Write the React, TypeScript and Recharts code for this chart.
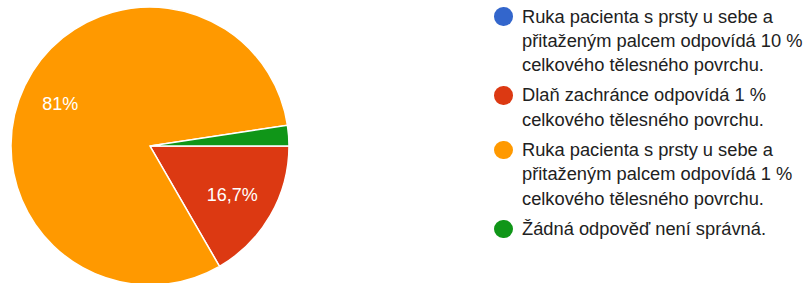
import React from "react";
import { PieChart, Pie, Cell, Legend } from "recharts";

const categories = [
  "Ruka pacienta s prsty u sebe a\npřitaženým palcem odpovídá 10 %\ncelkového tělesného povrchu.",
  "Dlaň zachránce odpovídá 1 %\ncelkového tělesného povrchu.",
  "Ruka pacienta s prsty u sebe a\npřitaženým palcem odpovídá 1 %\ncelkového tělesného povrchu.",
  "Žádná odpověď není správná.",
];
const counts = [0, 7, 34, 1];
const colors = ["#3366cc", "#dc3912", "#ff9900", "#109618"];

const data = categories.map((name, i) => ({ name, value: counts[i] }));

const RAD = Math.PI / 180;

const renderLabel = (props: any) => {
  const { cx, cy, midAngle, outerRadius, percent } = props;
  if (percent < 0.05) return null;
  const r = outerRadius * 0.7;
  const x = cx + r * Math.cos(-midAngle * RAD);
  const y = cy + r * Math.sin(-midAngle * RAD);
  const v = Math.round(percent * 1000) / 10;
  const txt = String(v).replace(".", ",") + "%";
  return (
    <text
      x={x - 2}
      y={y}
      fill="#ffffff"
      textAnchor="middle"
      dominantBaseline="central"
      fontFamily="Arial, 'Liberation Sans', sans-serif"
      fontSize={18}
    >
      {txt}
    </text>
  );
};

const renderLegend = () => (
  <div style={{ fontFamily: "Arial, 'Liberation Sans', sans-serif", fontSize: 18.3, color: "#212121" }}>
    {data.map((d, i) => (
      <div key={i} style={{ display: "flex", alignItems: "flex-start", marginBottom: 6 }}>
        <div
          style={{
            width: 18.5,
            height: 18.5,
            borderRadius: "50%",
            background: colors[i],
            marginTop: 2.9,
            marginRight: 9.5,
            flexShrink: 0,
          }}
        />
        <div style={{ whiteSpace: "pre-line", lineHeight: "24.3px" }}>{d.name}</div>
      </div>
    ))}
  </div>
);

export default function App() {
  return (
    <div style={{ position: "absolute", left: 0, top: 0, width: 809, height: 283, background: "#fff" }}>
      <PieChart width={809} height={283} margin={{ top: 0, right: 0, bottom: 0, left: 0 }}>
        <Pie
          data={data}
          dataKey="value"
          nameKey="name"
          cx={150}
          cy={146}
          outerRadius={139}
          startAngle={0}
          endAngle={-360}
          stroke="#ffffff"
          strokeWidth={1.5}
          label={renderLabel}
          labelLine={false}
          isAnimationActive={false}
        >
          {data.map((d, i) => (
            <Cell key={i} fill={colors[i]} />
          ))}
        </Pie>
        <Legend
          layout="vertical"
          content={renderLegend}
          wrapperStyle={{ position: "absolute", left: 494, top: 4.5, width: 315 }}
        />
      </PieChart>
    </div>
  );
}
